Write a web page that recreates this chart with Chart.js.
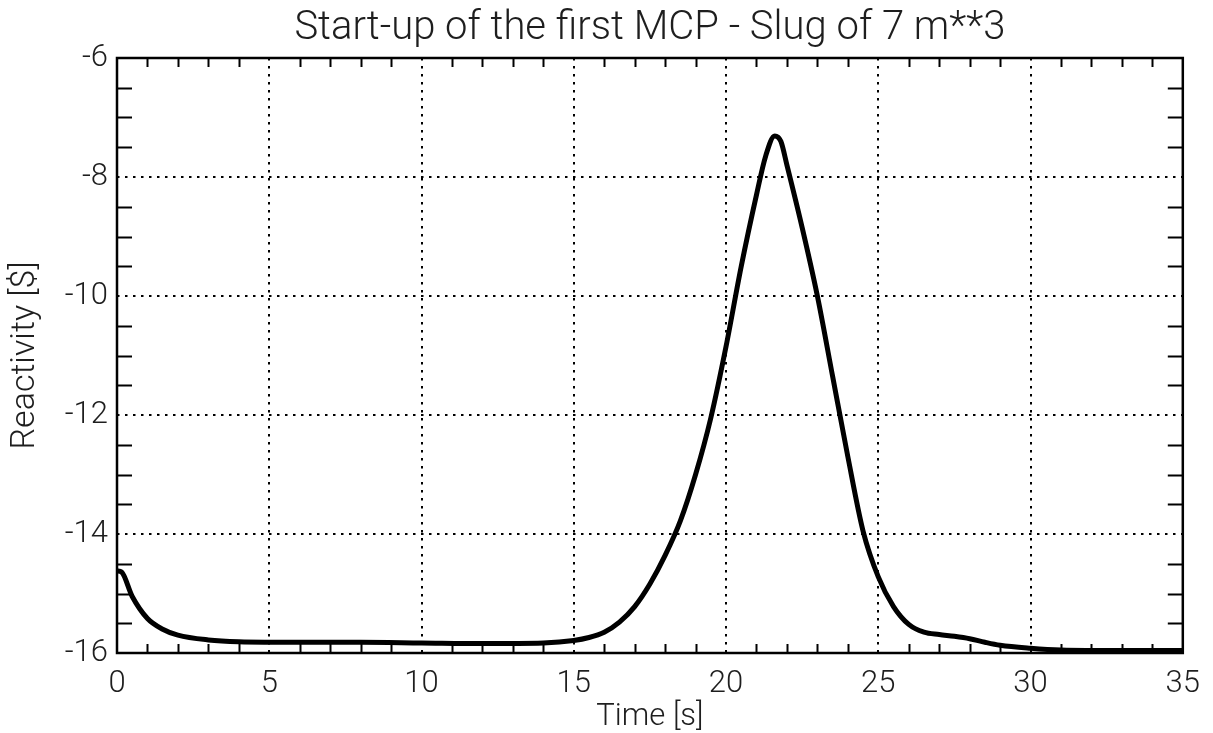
<!DOCTYPE html>
<html>
<head>
<meta charset="utf-8">
<title>Start-up of the first MCP</title>
<script src="https://cdn.jsdelivr.net/npm/chart.js@4.4.0/dist/chart.umd.min.js"></script>
<style>
  html, body { margin: 0; padding: 0; background: #fff; }
  #wrap { width: 1213px; height: 733px; }
</style>
</head>
<body>
<div id="wrap"><canvas id="mcp-chart" width="1213" height="733"></canvas></div>
<script>
// values: time [s] vs reactivity [$]
var timeValues = [0, 0.15, 0.5, 1, 1.5, 2, 3, 4, 6, 8, 10, 12, 14, 15, 15.5, 16, 16.5, 17, 17.5, 18, 18.5, 19, 19.5,
    20, 20.5, 21, 21.3, 21.6, 21.8, 22, 22.5, 23, 23.5, 24, 24.5, 25, 25.5, 26, 26.5, 27, 27.5, 28, 28.5, 29,
    30, 31, 33, 35];
var reactivityValues = [-14.62, -14.64, -15.05, -15.42, -15.6, -15.7, -15.78, -15.81, -15.82, -15.82, -15.83, -15.84,
    -15.83, -15.79, -15.74, -15.65, -15.48, -15.22, -14.84, -14.36, -13.78, -13.0, -12.05,
    -10.85, -9.5, -8.3, -7.65, -7.31, -7.4, -7.8, -8.85, -10.0, -11.35, -12.7, -13.95, -14.72, -15.22, -15.52,
    -15.65, -15.69, -15.72, -15.76, -15.82, -15.87, -15.92, -15.95, -15.96, -15.96];

var xTickLabels = [0, 5, 10, 15, 20, 25, 30, 35];
var yTickLabels = [-16, -14, -12, -10, -8, -6];

var chartTitle = 'Start-up of the first MCP - Slug of 7 m**3';
var xTitle = 'Time [s]';
var yTitle = 'Reactivity [$]';

var points = [];
for (var i = 0; i < timeValues.length; i++) {
    points.push({ x: timeValues[i], y: reactivityValues[i] });
}

var fontName = "Roboto, 'Liberation Sans', Arial, sans-serif";
var fontWeight = 300;
var textColor = '#1e1e1e';

// frame around the plot plus the small inward ticks on all four sides
var framePlugin = {
    id: 'frame',
    beforeDatasetsDraw: function (chart) {
        var ctx = chart.ctx;
        var area = chart.chartArea;
        var xs = chart.scales.x;
        var ys = chart.scales.y;
        ctx.save();
        ctx.strokeStyle = '#000';
        ctx.lineWidth = 2;
        ctx.beginPath();
        for (var t = xs.min + 1; t < xs.max; t++) {
            if (t % 5 === 0) continue;
            var px = Math.round(xs.getPixelForValue(t)) + 0.5;
            ctx.moveTo(px, area.bottom);
            ctx.lineTo(px, area.bottom - 9);
            ctx.moveTo(px, area.top);
            ctx.lineTo(px, area.top + 9);
        }
        for (var v = ys.min + 0.5; v < ys.max; v += 0.5) {
            if (v % 2 === 0) continue;
            var py = Math.round(ys.getPixelForValue(v)) + 0.5;
            ctx.moveTo(area.left, py);
            ctx.lineTo(area.left + 15, py);
            ctx.moveTo(area.right, py);
            ctx.lineTo(area.right - 15, py);
        }
        ctx.stroke();
        ctx.lineWidth = 2.5;
        ctx.strokeRect(area.left, area.top, area.right - area.left, area.bottom - area.top);
        ctx.restore();
    },
    // title centred over the plot area, not the whole canvas
    afterDraw: function (chart) {
        var ctx = chart.ctx;
        var area = chart.chartArea;
        ctx.save();
        ctx.fillStyle = textColor;
        ctx.font = fontWeight + ' 40px ' + fontName;
        ctx.textAlign = 'center';
        ctx.textBaseline = 'alphabetic';
        ctx.fillText(chartTitle, (area.left + area.right) / 2, 39);
        ctx.restore();
    }
};

var ctx = document.getElementById('mcp-chart').getContext('2d');
var chart = new Chart(ctx, {
    type: 'line',
    data: {
        datasets: [{
            label: 'Reactivity',
            data: points,
            borderColor: '#000',
            borderWidth: 5,
            pointRadius: 0,
            fill: false,
            cubicInterpolationMode: 'monotone'
        }]
    },
    options: {
        responsive: false,
        animation: false,
        layout: { padding: { left: 0, right: 29, top: 58, bottom: 0 } },
        plugins: {
            legend: { display: false },
            tooltip: { enabled: false },
            title: { display: false }
        },
        scales: {
            x: {
                type: 'linear',
                min: 0,
                max: 35,
                afterBuildTicks: function (scale) {
                    scale.ticks = xTickLabels.map(function (v) { return { value: v }; });
                },
                afterFit: function (scale) { scale.height = 80; },
                ticks: {
                    color: textColor,
                    font: { family: fontName, size: 31, weight: fontWeight },
                    padding: 13,
                    maxRotation: 0,
                    autoSkip: false
                },
                grid: { color: '#000', lineWidth: 2, drawTicks: false },
                border: { display: false, dash: [2.5, 5.5] },
                title: {
                    display: true,
                    text: xTitle,
                    color: textColor,
                    font: { family: fontName, size: 31, weight: fontWeight, lineHeight: 1 },
                    padding: 0
                }
            },
            y: {
                type: 'linear',
                min: -16,
                max: -6,
                afterBuildTicks: function (scale) {
                    scale.ticks = yTickLabels.map(function (v) { return { value: v }; });
                },
                afterFit: function (scale) { scale.width = 117; },
                ticks: {
                    color: textColor,
                    font: { family: fontName, size: 31, weight: fontWeight },
                    padding: 9,
                    autoSkip: false,
                    callback: function (v) { return String(v); }
                },
                grid: { color: '#000', lineWidth: 2, drawTicks: false },
                border: { display: false, dash: [2.5, 5.5] },
                title: {
                    display: true,
                    text: yTitle,
                    color: textColor,
                    font: { family: fontName, size: 34, weight: fontWeight, lineHeight: 1 },
                    padding: { top: 8, bottom: 0 }
                }
            }
        }
    },
    plugins: [framePlugin]
});
</script>
</body>
</html>
